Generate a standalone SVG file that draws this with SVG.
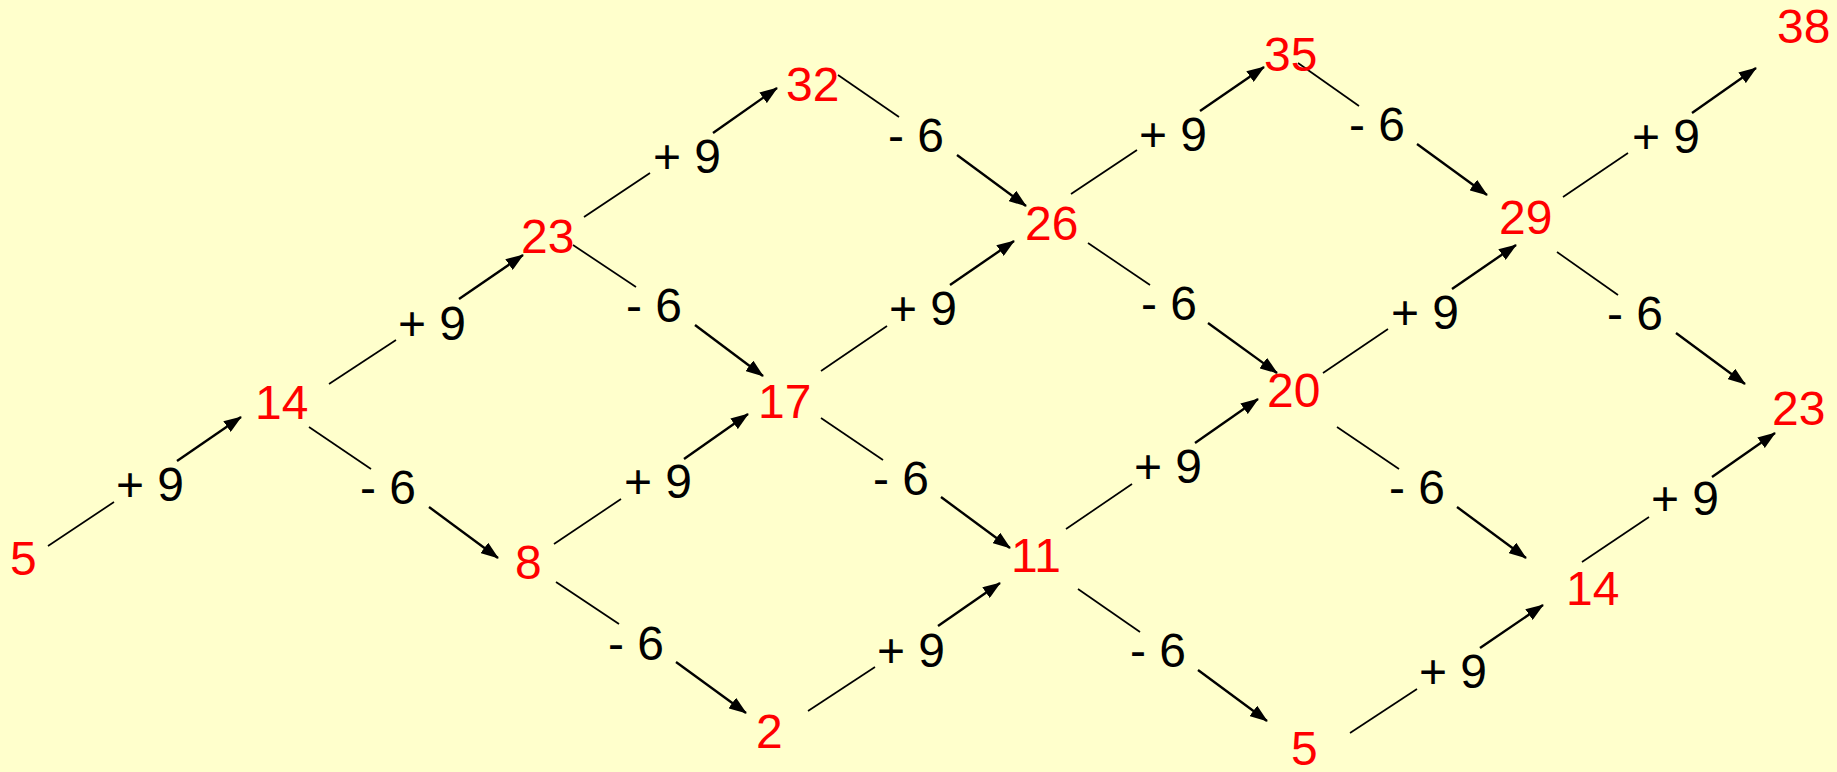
<svg xmlns="http://www.w3.org/2000/svg" width="1837" height="772" viewBox="0 0 1837 772">
<style>
.n{font-family:"Liberation Sans",Arial,sans-serif;font-size:48px;fill:#FF0000}
.l{font-family:"Liberation Sans",Arial,sans-serif;font-size:48px;fill:#000000}
.s{stroke:#000;stroke-width:1.7;fill:none}
.a{stroke:#000;stroke-width:2.4;fill:none;marker-end:url(#ah)}
</style>
<defs>
<marker id="ah" markerUnits="userSpaceOnUse" markerWidth="18" markerHeight="13" refX="17" refY="6.5" orient="auto">
<path d="M0,0 L18,6.5 L0,13 z" fill="#000"/>
</marker>
</defs>
<rect width="1837" height="772" fill="#FFFFCC"/>
<g id="connectors">
<g id="c-5-14"><line class="s" x1="48" y1="546" x2="114" y2="502"/><text class="l" x="116" y="501">+ 9</text><line class="a" x1="177" y1="461" x2="241" y2="417"/></g>
<g id="c-14-23"><line class="s" x1="329" y1="384" x2="396" y2="340"/><text class="l" x="398" y="340">+ 9</text><line class="a" x1="459" y1="299" x2="523" y2="255"/></g>
<g id="c-23-32"><line class="s" x1="584" y1="217" x2="650" y2="173"/><text class="l" x="653" y="173">+ 9</text><line class="a" x1="713" y1="133" x2="777" y2="88"/></g>
<g id="c-8-17"><line class="s" x1="554" y1="544" x2="621" y2="499"/><text class="l" x="624" y="498">+ 9</text><line class="a" x1="684" y1="459" x2="748" y2="414"/></g>
<g id="c-2-11"><line class="s" x1="808" y1="711" x2="875" y2="667"/><text class="l" x="877" y="667">+ 9</text><line class="a" x1="938" y1="626" x2="1000" y2="583"/></g>
<g id="c-17-26"><line class="s" x1="821" y1="371" x2="887" y2="326"/><text class="l" x="889" y="325">+ 9</text><line class="a" x1="950" y1="285" x2="1014" y2="241"/></g>
<g id="c-26-35"><line class="s" x1="1071" y1="194" x2="1137" y2="150"/><text class="l" x="1139" y="151">+ 9</text><line class="a" x1="1200" y1="111" x2="1264" y2="67"/></g>
<g id="c-11-20"><line class="s" x1="1066" y1="529" x2="1132" y2="484"/><text class="l" x="1134" y="483">+ 9</text><line class="a" x1="1195" y1="443" x2="1258" y2="399"/></g>
<g id="c-20-29"><line class="s" x1="1323" y1="373" x2="1388" y2="329"/><text class="l" x="1391" y="329">+ 9</text><line class="a" x1="1452" y1="289" x2="1516" y2="245"/></g>
<g id="c-29-38"><line class="s" x1="1563" y1="197" x2="1628" y2="153"/><text class="l" x="1632" y="153">+ 9</text><line class="a" x1="1692" y1="113" x2="1756" y2="68"/></g>
<g id="c-5-14b"><line class="s" x1="1350" y1="733" x2="1417" y2="689"/><text class="l" x="1419" y="688">+ 9</text><line class="a" x1="1480" y1="648" x2="1543" y2="605"/></g>
<g id="c-14-23b"><line class="s" x1="1582" y1="562" x2="1649" y2="517"/><text class="l" x="1651" y="515">+ 9</text><line class="a" x1="1712" y1="477" x2="1775" y2="433"/></g>
<g id="c-14-8"><line class="s" x1="309" y1="427" x2="371" y2="469"/><text class="l" x="360" y="504">- 6</text><line class="a" x1="429" y1="507" x2="498" y2="558"/></g>
<g id="c-8-2"><line class="s" x1="556" y1="582" x2="619" y2="624"/><text class="l" x="608" y="660">- 6</text><line class="a" x1="676" y1="662" x2="746" y2="713"/></g>
<g id="c-23-17"><line class="s" x1="573" y1="245" x2="636" y2="287"/><text class="l" x="626" y="322">- 6</text><line class="a" x1="695" y1="325" x2="763" y2="376"/></g>
<g id="c-17-11"><line class="s" x1="821" y1="418" x2="883" y2="460"/><text class="l" x="873" y="495">- 6</text><line class="a" x1="941" y1="497" x2="1010" y2="548"/></g>
<g id="c-11-5"><line class="s" x1="1078" y1="589" x2="1140" y2="632"/><text class="l" x="1130" y="667">- 6</text><line class="a" x1="1198" y1="670" x2="1267" y2="721"/></g>
<g id="c-32-26"><line class="s" x1="838" y1="75" x2="899" y2="117"/><text class="l" x="888" y="152">- 6</text><line class="a" x1="957" y1="155" x2="1026" y2="206"/></g>
<g id="c-26-20"><line class="s" x1="1088" y1="243" x2="1150" y2="285"/><text class="l" x="1141" y="320">- 6</text><line class="a" x1="1208" y1="323" x2="1277" y2="373"/></g>
<g id="c-20-14"><line class="s" x1="1337" y1="427" x2="1399" y2="469"/><text class="l" x="1389" y="504">- 6</text><line class="a" x1="1457" y1="507" x2="1526" y2="558"/></g>
<g id="c-35-29"><line class="s" x1="1298" y1="63" x2="1359" y2="106"/><text class="l" x="1349" y="141">- 6</text><line class="a" x1="1417" y1="144" x2="1487" y2="195"/></g>
<g id="c-29-23"><line class="s" x1="1557" y1="252" x2="1618" y2="295"/><text class="l" x="1607" y="330">- 6</text><line class="a" x1="1676" y1="333" x2="1745" y2="384"/></g>
</g>
<g id="n5"><text class="n" x="10" y="575">5</text></g>
<g id="n14"><text class="n" x="255" y="419">14</text></g>
<g id="n8"><text class="n" x="515" y="579">8</text></g>
<g id="n2"><text class="n" x="756" y="748">2</text></g>
<g id="n23"><text class="n" x="521" y="253">23</text></g>
<g id="n17"><text class="n" x="758" y="418">17</text></g>
<g id="n11"><text class="n" x="1011" y="572">11</text></g>
<g id="n5b"><text class="n" x="1291" y="765">5</text></g>
<g id="n32"><text class="n" x="786" y="101">32</text></g>
<g id="n26"><text class="n" x="1025" y="240">26</text></g>
<g id="n20"><text class="n" x="1267" y="407">20</text></g>
<g id="n14b"><text class="n" x="1566" y="605">14</text></g>
<g id="n35"><text class="n" x="1264" y="71">35</text></g>
<g id="n29"><text class="n" x="1499" y="234">29</text></g>
<g id="n23b"><text class="n" x="1772" y="425">23</text></g>
<g id="n38"><text class="n" x="1777" y="43">38</text></g>
</svg>
